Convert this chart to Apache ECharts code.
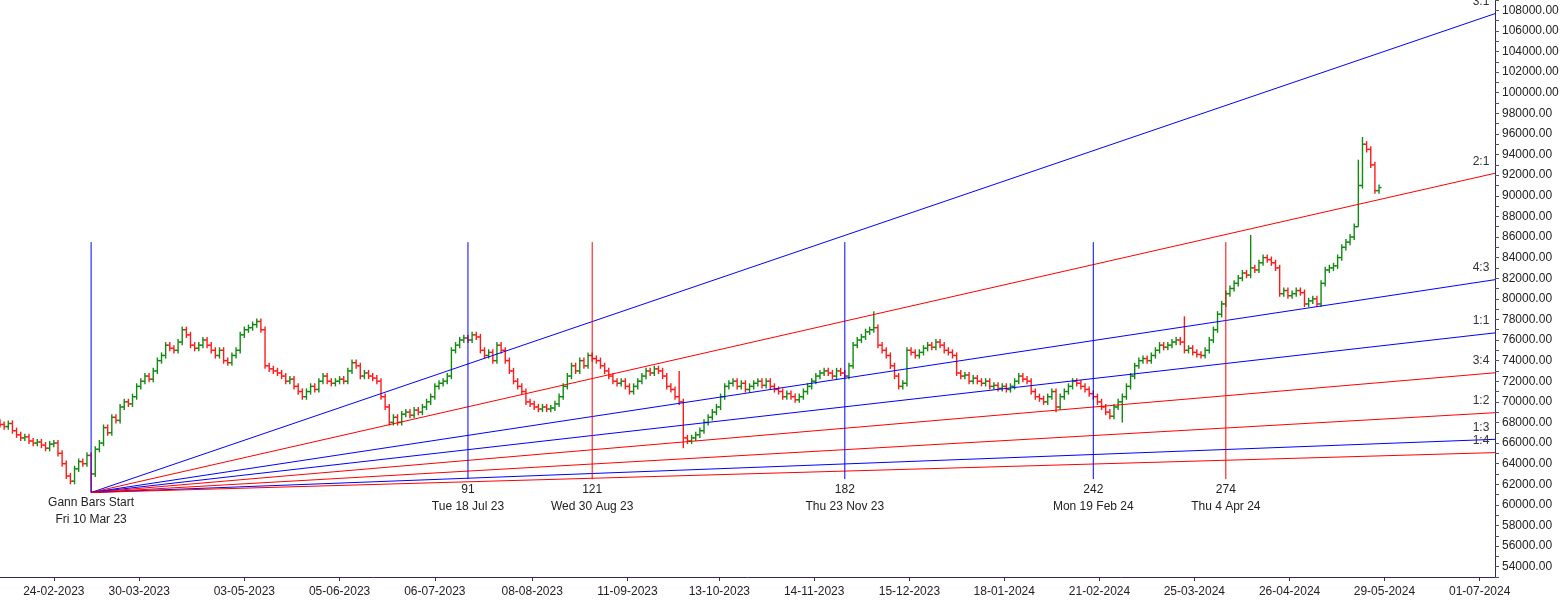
<!DOCTYPE html>
<html><head><meta charset="utf-8">
<script src="https://cdn.jsdelivr.net/npm/echarts@6/dist/echarts.min.js"></script>
<style>html,body{margin:0;padding:0;background:#fff}#c{width:1567px;height:605px}</style>
</head><body><div id="c"></div>
<script>
// bar index of first close
const firstIndex = -22;
const closes = [
67800,67600,67900,67200,66800,66500,66600,66200,66000,66100,
65800,65500,65900,66000,65000,64000,62800,62300,63500,64200,
64000,64800,
63000,65400,66000,67500,67000,68500,68200,69500,70000,69800,
70500,71500,72000,72500,72200,73000,74000,74500,75500,75200,
75000,75800,77000,76500,75500,75200,75500,76000,75500,75000,
74500,75000,74000,73800,74500,75000,76500,77000,77200,77500,
77800,77000,73500,73200,73000,72800,72500,72000,72200,71500,
71000,70500,71000,71500,71200,72000,72500,72000,71800,72000,
72200,72000,73000,73800,73500,72500,72800,72500,72300,72000,
70500,69500,68000,68500,68000,68800,69000,68700,69200,69000,
69500,70000,70500,71500,71800,72000,72500,75000,75500,76000,
76200,76000,76500,76300,75000,74500,74800,74000,75500,75000,
74000,73000,72000,71500,71000,70000,69800,69500,69300,69500,
69300,69400,69800,70500,71500,72500,73500,73000,74000,73500,
74500,74200,74000,73500,73000,72500,72000,71800,72000,71500,
71000,71500,72000,72500,73000,72800,73200,73000,72500,71500,
71200,70500,70000,66500,66200,66500,66800,67200,68000,68500,
69000,69500,70500,71500,71800,72000,71500,71800,71200,71500,
71800,72000,71600,72000,71500,71200,71000,70500,70800,70500,
70200,70500,71000,71500,72000,72500,72800,73000,72800,72500,
73000,72800,72500,73500,75500,76000,76300,76800,77000,77200,
75500,75000,74500,73500,72500,71500,71800,75000,74800,74500,
74800,75200,75500,75300,75800,75500,75000,74800,74500,72800,
72500,72600,72000,72300,72000,71800,72000,71500,71600,71300,
71500,71200,71500,72000,72500,72200,72000,71000,70500,70300,
70000,70500,71000,69500,70500,71000,71500,72000,71800,71500,
71200,70800,70500,70000,69500,69000,68600,69500,70000,70500,
71500,72500,73500,74000,74200,74000,74500,75000,75500,75300,
75500,75800,76000,75800,75000,75200,74800,74600,74500,75000,
76000,77000,78500,79500,80500,81000,81500,82000,82500,82300,
83000,82800,83500,84000,83800,83500,83000,80500,80800,80300,
80500,80800,80600,79500,79800,80000,79500,81500,82800,83000,
83200,84000,85000,85500,86000,87000,91000,95000,94500,93000,
90500,90800
];
const highOverride = {142:73000,189:78800,264:78300,280:86200,307:95700,306:93500};
const lowOverride = {143:65500,233:69000,249:68000,0:61200,306:87000};

const tickIdx = [-9,11.6,37,60,83,106.5,129.5,151.7,174.6,197.6,220.5,243.5,266.4,289.4,312.3,335.3];
const tickDates = ['24-02-2023','30-03-2023','03-05-2023','05-06-2023','06-07-2023','08-08-2023','11-09-2023','13-10-2023','14-11-2023','15-12-2023','18-01-2024','21-02-2024','25-03-2024','26-04-2024','29-05-2024','01-07-2024'];

const yLabels = []; for (let v=54000; v<=108000; v+=2000) yLabels.push(v);
const yMinor = []; for (let v=53000; v<=109000; v+=1000) yMinor.push(v);

const gannOrigin = [0, 61200];
const gannUnit = 45.7;
const gannNames = ['3:1','2:1','4:3','1:1','3:4','1:2','1:3','1:4'];
const gannRatios = [3,2,4/3,1,3/4,1/2,1/3,1/4];
const gannColors = ['#0000ff','#ff0000','#0000ff','#0000ff','#ff0000','#ff0000','#0000ff','#ff0000'];

const vBars = [0,91,121,182,242,274];
const vNames = ['Gann Bars Start','91','121','182','242','274'];
const vDates = ['Fri 10 Mar 23','Tue 18 Jul 23','Wed 30 Aug 23','Thu 23 Nov 23','Mon 19 Feb 24','Thu 4 Apr 24'];
const vColors = ['#0000ff','#0000ff','#ff0000','#0000ff','#0000ff','#ff0000'];

const xMin=-22, xMax=339;
const ohlc = closes.map((c,i)=>{
  const idx = firstIndex+i;
  const o = i>0 ? closes[i-1] : c+200;
  let h = Math.max(o,c)+300, l = Math.min(o,c)-300;
  if (highOverride[idx]!==undefined) h = highOverride[idx];
  if (lowOverride[idx]!==undefined) l = lowOverride[idx];
  return [idx,o,h,l,c];
});

const font = 'Arial, Liberation Sans';
const series = [{
  type:'custom', data: ohlc, encode:{x:0,y:[1,2,3,4]}, z:2,
  renderItem:(params, api)=>{
    const x=api.value(0), o=api.value(1), h=api.value(2), l=api.value(3), c=api.value(4);
    const ph=api.coord([x,h]), pl=api.coord([x,l]), po=api.coord([x,o]), pc=api.coord([x,c]);
    const col = c>=o ? '#118a11' : '#ff1a1a';
    const st = {stroke:col, lineWidth:1.4};
    return {type:'group', children:[
      {type:'line', shape:{x1:ph[0],y1:ph[1],x2:pl[0],y2:pl[1]}, style:st},
      {type:'line', shape:{x1:po[0]-2.5,y1:po[1],x2:po[0],y2:po[1]}, style:st},
      {type:'line', shape:{x1:pc[0],y1:pc[1],x2:pc[0]+2.5,y2:pc[1]}, style:st}
    ]};
  }
}];
gannRatios.forEach((r,k)=>{
  const endV = gannOrigin[1] + r*gannUnit*(xMax-gannOrigin[0]);
  series.push({type:'line', symbol:'circle', symbolSize:0, showSymbol:true, silent:true, z:3,
    lineStyle:{color:gannColors[k], width:1},
    label:{show:false},
    data:[{value:gannOrigin}, {value:[xMax,endV], label:{show:true, formatter:gannNames[k], position:'top', offset:[-14,-1], color:'#333', fontSize:12, fontFamily:font}}]
  });
});
vBars.forEach((b,k)=>{
  series.push({type:'line', symbol:'circle', symbolSize:0, showSymbol:true, silent:true, z:3,
    lineStyle:{color:vColors[k], width:1},
    label:{show:false},
    data:[{value:[b,85500]}, {value:[b, b===0?61200:62500], label:{show:true, position:'bottom', distance:2, formatter:vNames[k]+'\n'+vDates[k], color:'#222', fontSize:12, lineHeight:17, fontFamily:font}}]
  });
});

const chart = echarts.init(document.getElementById('c'));
chart.setOption({
  animation:false,
  backgroundColor:'#fff',
  grid:{left:0, right:72, top:0, bottom:28},
  xAxis:{type:'value', min:xMin, max:xMax, splitLine:{show:false},
    axisLine:{show:true, onZero:false, lineStyle:{color:'#2a2a6a'}},
    axisTick:{show:true, customValues:tickIdx, length:4, lineStyle:{color:'#333'}},
    axisLabel:{customValues:tickIdx, formatter:(v)=>{const i=tickIdx.indexOf(v); return i>=0?tickDates[i]:'';}, color:'#222', fontSize:12, margin:9, fontFamily:font}},
  yAxis:{type:'value', position:'right', min:53000, max:109000, splitLine:{show:false},
    axisLine:{show:true, onZero:false, lineStyle:{color:'#2a2a6a'}},
    axisTick:{show:true, customValues:yMinor, length:4, lineStyle:{color:'#555'}},
    axisLabel:{customValues:yLabels, formatter:(v)=>v.toFixed(2), color:'#222', fontSize:12, margin:7, fontFamily:font}},
  series
});
</script></body></html>
